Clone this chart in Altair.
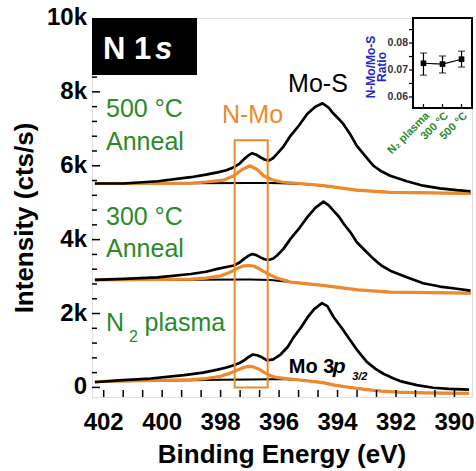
import altair as alt
import pandas as pd

FONT = "Liberation Sans"
BLACK = "#000000"
ORANGE = "#EE8A2C"
GREEN = "#2A8A2A"
BLUE = "#2626C8"

# ---------------- spectra (binding energy in eV, intensity in cts/s) ----------------
be_plasma = [402.3, 401.5, 400.4, 399.25, 398.6, 398.1, 397.8, 397.55, 397.35, 397.2, 397.05,
             396.9, 396.75, 396.6, 396.41, 396.2, 395.95, 395.7, 395.5, 395.25, 395.04, 394.8,
             394.53, 394.35, 394.13, 393.85, 393.56, 393.3, 393.0, 392.7, 392.43, 392.1, 391.86,
             391.29, 390.72, 390.2, 389.5]
int_plasma = [140, 190, 240, 330, 400, 480, 540, 600, 660, 730, 820,
              890, 870, 820, 730, 760, 890, 1100, 1360, 1620, 1880, 2120,
              2280, 2200, 1900, 1600, 1270, 980, 690, 500, 370, 250, 170,
              60, -10, -40, -60]
be_fit_plasma = [402.3, 400.0, 399.0, 398.5, 398.0, 397.7, 397.4, 397.2, 397.05, 396.9, 396.7,
                 396.5, 396.3, 396.1, 395.9, 395.3, 394.5, 394.1, 393.5, 393.0, 392.5, 391.9,
                 391.0, 389.5]
int_fit_plasma = [160, 190, 210, 240, 300, 380, 480, 540, 570, 560, 500,
                  400, 320, 270, 250, 200, 130, 60, -10, -60, -100, -130,
                  -150, -160]
be_bg_plasma = [402.3, 399.0, 398.0, 397.0, 396.3, 395.9, 395.3, 394.5, 394.1, 393.5, 393.0,
                392.5, 391.9, 391.0, 389.5]
int_bg_plasma = [160, 195, 205, 215, 220, 225, 200, 130, 60, -10, -60,
                 -100, -130, -150, -160]

be_300 = [402.3, 401.31, 400.16, 399.02, 398.5, 398.11, 397.8, 397.55, 397.35, 397.2, 397.05,
          396.92, 396.78, 396.64, 396.5, 396.35, 396.2, 396.07, 395.85, 395.61, 395.3, 395.04,
          394.76, 394.48, 394.3, 394.15, 393.95, 393.79, 393.55, 393.34, 393.05, 392.77, 392.5,
          392.2, 391.63, 391.07, 390.5, 389.92, 389.45]
int_300 = [2910, 2940, 2980, 3070, 3130, 3210, 3260, 3300, 3380, 3480, 3560,
           3610, 3580, 3520, 3470, 3450, 3490, 3570, 3750, 4020, 4320, 4600,
           4860, 5030, 4930, 4790, 4620, 4430, 4190, 3930, 3700, 3480, 3300,
           3160, 2980, 2820, 2730, 2670, 2620]
be_fit_300 = [402.3, 399.0, 398.5, 398.0, 397.7, 397.4, 397.2, 397.0, 396.85, 396.7, 396.4,
              396.1, 395.6, 394.5, 393.3, 392.2, 389.45]
int_fit_300 = [2910, 2930, 2960, 3020, 3110, 3230, 3290, 3300, 3280, 3220, 3080,
               2970, 2850, 2760, 2640, 2580, 2550]
be_bg_300 = [402.3, 399.0, 397.0, 396.3, 395.6, 394.5, 393.3, 392.2, 389.45]
int_bg_300 = [2910, 2915, 2920, 2910, 2850, 2760, 2640, 2580, 2550]

be_500 = [402.3, 401.31, 400.16, 399.02, 398.5, 398.11, 397.8, 397.55, 397.35, 397.2, 397.05,
          396.92, 396.78, 396.64, 396.5, 396.35, 396.2, 396.07, 395.85, 395.61, 395.3, 395.04,
          394.76, 394.51, 394.3, 394.15, 393.95, 393.79, 393.55, 393.34, 393.05, 392.77, 392.5,
          392.2, 391.63, 391.07, 390.5, 389.92, 389.45]
int_500 = [5520, 5520, 5580, 5690, 5760, 5820, 5880, 5960, 6060, 6180, 6280,
           6340, 6300, 6230, 6170, 6140, 6210, 6320, 6520, 6810, 7110, 7400,
           7600, 7690, 7570, 7420, 7260, 7120, 6830, 6540, 6260, 6000, 5850,
           5730, 5580, 5460, 5390, 5340, 5310]
be_fit_500 = [402.3, 399.0, 398.5, 397.9, 397.55, 397.3, 397.0, 396.75, 396.53, 396.24, 395.9,
              395.3, 394.48, 393.34, 392.2, 389.45]
int_fit_500 = [5520, 5530, 5560, 5610, 5730, 5880, 6000, 5900, 5730, 5620, 5560,
               5520, 5460, 5340, 5280, 5250]
be_bg_500 = [402.3, 399.0, 397.0, 396.3, 395.3, 394.48, 393.34, 392.2, 389.45]
int_bg_500 = [5520, 5525, 5530, 5530, 5510, 5460, 5340, 5280, 5250]

# ---------------- axis ticks and labels ----------------
x_labels = [402, 400, 398, 396, 394, 392, 390]
x_label_text = ["402", "400", "398", "396", "394", "392", "390"]
x_ticks = [402, 401.333, 400.667, 400, 399.333, 398.667, 398, 397.333, 396.667, 396,
           395.333, 394.667, 394, 393.333, 392.667, 392, 391.333, 390.667, 390]
y_labels = [0, 2000, 4000, 6000, 8000, 10000]
y_label_text = ["0", "2k", "4k", "6k", "8k", "10k"]
y_major_ticks = [0, 2000, 4000, 6000, 8000]
y_minor_ticks = [400, 800, 1200, 1600, 2400, 2800, 3200, 3600, 4400, 4800, 5200, 5600,
                 6400, 6800, 7200, 7600, 8400, 8800, 9200, 9600]
x_title = "Binding Energy (eV)"
y_title = "Intensity (cts/s)"

# ---------------- inset ----------------
inset_samples = ["N\u2082 plasma", "300 \u00b0C", "500 \u00b0C"]
inset_ratio = [0.0725, 0.0722, 0.0740]
inset_low = [0.0681, 0.0689, 0.0711]
inset_high = [0.0763, 0.0752, 0.0770]
inset_y_ticks = [0.06, 0.065, 0.07, 0.075, 0.08, 0.085]
inset_y_labels = [0.06, 0.07, 0.08]
inset_y_label_text = ["0.06", "0.07", "0.08"]
inset_title = ["N-Mo/Mo-S", "Ratio"]

W, H = 380, 379
xs = alt.Scale(domain=[389.4, 402.4], reverse=True, zero=False, nice=False)
ys = alt.Scale(domain=[-260, 10000], zero=False, nice=False)
ONE = pd.DataFrame({"k": [0]})


def line(be, val, color, width):
    df = pd.DataFrame({"be": be, "counts": val})
    return alt.Chart(df).mark_line(color=color, strokeWidth=width, strokeJoin="round",
                                   clip=True).encode(
        x=alt.X("be:Q", scale=xs, axis=None),
        y=alt.Y("counts:Q", scale=ys, axis=None),
    )


def label(text, be, cnt, color, size, weight="normal", style="normal", align="left"):
    return alt.Chart(ONE).mark_text(text=text, font=FONT, fontSize=size, fontWeight=weight,
                                    fontStyle=style, color=color, align=align,
                                    baseline="alphabetic").encode(
        x=alt.X(datum=be, scale=xs, axis=None),
        y=alt.Y(datum=cnt, scale=ys, axis=None),
    )


layers = [
    line(be_bg_plasma, int_bg_plasma, BLACK, 2),
    line(be_bg_300, int_bg_300, BLACK, 2),
    line(be_bg_500, int_bg_500, BLACK, 2),
    line(be_fit_plasma, int_fit_plasma, ORANGE, 3.2),
    line(be_fit_300, int_fit_300, ORANGE, 3.2),
    line(be_fit_500, int_fit_500, ORANGE, 3.2),
    line(be_plasma, int_plasma, BLACK, 2.7),
    line(be_300, int_300, BLACK, 2.7),
    line(be_500, int_500, BLACK, 2.7),
]

# orange N-Mo box
layers.append(alt.Chart(ONE).mark_rect(filled=False, stroke=ORANGE, strokeWidth=2).encode(
    x=alt.X(datum=397.52, scale=xs, axis=None), x2=alt.X2(datum=396.39),
    y=alt.Y(datum=0, scale=ys, axis=None), y2=alt.Y2(datum=6690)))

# inward ticks
layers.append(alt.Chart(pd.DataFrame({"be": x_ticks})).mark_rule(color=BLACK, strokeWidth=1.5).encode(
    x=alt.X("be:Q", scale=xs, axis=None), y=alt.value(H), y2=alt.value(H - 7)))
layers.append(alt.Chart(pd.DataFrame({"c": y_major_ticks})).mark_rule(color=BLACK, strokeWidth=1.5).encode(
    y=alt.Y("c:Q", scale=ys, axis=None), x=alt.value(0), x2=alt.value(8)))
layers.append(alt.Chart(pd.DataFrame({"c": y_minor_ticks})).mark_rule(color=BLACK, strokeWidth=1.5).encode(
    y=alt.Y("c:Q", scale=ys, axis=None), x=alt.value(0), x2=alt.value(5)))

# tick labels and axis titles
layers.append(alt.Chart(pd.DataFrame({"be": x_labels, "t": x_label_text})).mark_text(
    font=FONT, fontSize=24, fontWeight="bold", color=BLACK, align="center", baseline="top").encode(
    x=alt.X("be:Q", scale=xs, axis=None), y=alt.value(H + 14), text="t:N"))
layers.append(alt.Chart(pd.DataFrame({"c": y_labels, "t": y_label_text})).mark_text(
    font=FONT, fontSize=24, fontWeight="bold", color=BLACK, align="right", baseline="middle").encode(
    y=alt.Y("c:Q", scale=ys, axis=None), x=alt.value(-5), text="t:N"))
layers.append(alt.Chart(ONE).mark_text(text=x_title, font=FONT, fontSize=26, fontWeight="bold",
                                       color=BLACK, align="center", baseline="alphabetic").encode(
    x=alt.value(W / 2), y=alt.value(H + 66)))
layers.append(alt.Chart(ONE).mark_text(text=y_title, font=FONT, fontSize=26, fontWeight="bold",
                                       color=BLACK, align="center", baseline="alphabetic",
                                       angle=270).encode(
    x=alt.value(-59), y=alt.value(200)))

# annotations
layers += [
    label("500 \u00b0C", 401.92, 7320, GREEN, 25),
    label("Anneal", 401.92, 6430, GREEN, 25),
    label("300 \u00b0C", 401.92, 4400, GREEN, 25),
    label("Anneal", 401.92, 3530, GREEN, 25),
    label("N", 401.92, 1530, GREEN, 25),
    label("2", 401.13, 1230, GREEN, 16),
    label("plasma", 400.6, 1530, GREEN, 25),
    label("N-Mo", 396.91, 7160, ORANGE, 25, align="center"),
    label("Mo-S", 394.67, 8000, BLACK, 25, align="center"),
    label("Mo 3", 395.67, 390, BLACK, 20, weight="bold"),
    label("p", 394.16, 390, BLACK, 21, weight="bold", style="italic"),
    label("3/2", 393.5, 200, BLACK, 11, weight="bold", style="italic"),
]

# N 1s badge
layers.append(alt.Chart(ONE).mark_rect(color=BLACK).encode(
    x=alt.value(0), x2=alt.value(105), y=alt.value(0), y2=alt.value(57)))
layers.append(alt.Chart(ONE).mark_text(text="N 1", font=FONT, fontSize=31, fontWeight="bold",
                                       color="white", align="left", baseline="alphabetic").encode(
    x=alt.value(11), y=alt.value(41)))
layers.append(alt.Chart(ONE).mark_text(text="s", font=FONT, fontSize=31, fontWeight="bold",
                                       fontStyle="italic", color="white", align="left",
                                       baseline="alphabetic").encode(
    x=alt.value(63), y=alt.value(41)))

# inset frame
layers.append(alt.Chart(ONE).mark_rect(filled=False, stroke=BLACK, strokeWidth=2).encode(
    x=alt.value(321), x2=alt.value(380), y=alt.value(0), y2=alt.value(90)))
layers.append(alt.Chart(ONE).mark_text(text=inset_title, font=FONT, fontSize=12,
                                       fontWeight="bold", color=BLUE, align="center",
                                       baseline="alphabetic", angle=270, lineHeight=11).encode(
    x=alt.value(283), y=alt.value(49)))

main = alt.layer(*layers)

# ---------------- inset chart ----------------
inset_df = pd.DataFrame({"sample": inset_samples, "ratio": inset_ratio,
                         "lo": inset_low, "hi": inset_high})
ix = alt.Scale(type="point", domain=inset_samples, range=[321, 380], padding=0.55)
iy = alt.Scale(domain=[0.0559, 0.0893], range=[90, 0], zero=False, nice=False)

ibase = alt.Chart(inset_df)
IX = alt.X("sample:N", scale=ix, sort=inset_samples, axis=None)
inset_line = ibase.mark_line(color=BLACK, strokeWidth=1.2).encode(
    x=IX, y=alt.Y("ratio:Q", scale=iy, axis=None))
inset_err = ibase.mark_rule(color=BLACK, strokeWidth=1.2).encode(
    x=IX, y=alt.Y("lo:Q", scale=iy, axis=None), y2="hi:Q")
inset_cap_lo = ibase.mark_tick(color=BLACK, size=7, thickness=1.2).encode(
    x=IX, y=alt.Y("lo:Q", scale=iy, axis=None))
inset_cap_hi = ibase.mark_tick(color=BLACK, size=7, thickness=1.2).encode(
    x=IX, y=alt.Y("hi:Q", scale=iy, axis=None))
inset_pts = ibase.mark_square(color=BLACK, size=32, opacity=1).encode(
    x=IX, y=alt.Y("ratio:Q", scale=iy, axis=None))
inset_xticks = ibase.mark_rule(color=BLACK, strokeWidth=1.2).encode(
    x=IX, y=alt.value(90), y2=alt.value(86))
inset_xlabels = ibase.mark_text(font=FONT, fontSize=11, fontWeight="bold", color=GREEN,
                                align="right", baseline="top", angle=315).encode(
    x=IX, y=alt.value(92), text="sample:N")
inset_yticks = alt.Chart(pd.DataFrame({"v": inset_y_ticks})).mark_rule(
    color=BLACK, strokeWidth=1.2).encode(
    y=alt.Y("v:Q", scale=iy, axis=None), x=alt.value(317), x2=alt.value(321))
inset_ylabels = alt.Chart(pd.DataFrame({"v": inset_y_labels, "t": inset_y_label_text})).mark_text(
    font=FONT, fontSize=10.5, fontWeight="bold", color="#333333", align="right",
    baseline="middle").encode(
    y=alt.Y("v:Q", scale=iy, axis=None), x=alt.value(316), text="t:N")

inset = alt.layer(inset_line, inset_err, inset_cap_lo, inset_cap_hi, inset_pts,
                  inset_xticks, inset_xlabels, inset_yticks, inset_ylabels)

chart = alt.layer(main, inset).resolve_scale(x="independent", y="independent").properties(
    width=W, height=H,
    autosize=alt.AutoSizeParams(type="none"),
    padding={"left": 92, "top": 18, "right": 4, "bottom": 74},
).configure_view(stroke=BLACK, strokeWidth=2.5).configure(font=FONT)

chart.save("out.html", embed_options={"renderer": "svg", "actions": False})
